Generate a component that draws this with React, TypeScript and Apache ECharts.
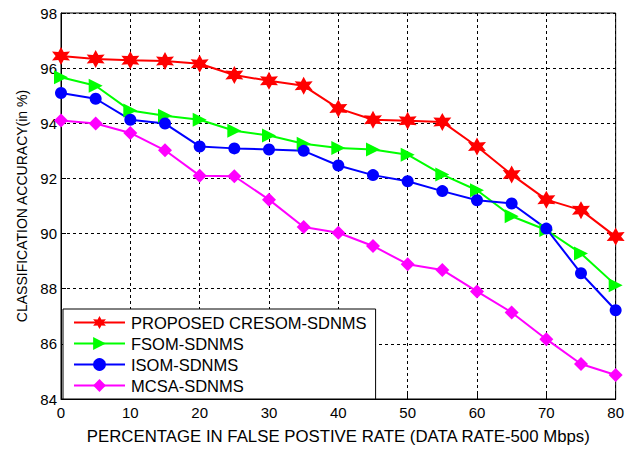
import React, { useEffect, useRef } from "react";
import * as echarts from "echarts";

const xValues = [0, 5, 10, 15, 20, 25, 30, 35, 40, 45, 50, 55, 60, 65, 70, 75, 80];
const proposed = [96.44, 96.33, 96.29, 96.26, 96.16, 95.75, 95.54, 95.36, 94.54, 94.13, 94.09, 94.05, 93.16, 92.14, 91.23, 90.85, 89.89];
const fsom = [95.67, 95.36, 94.46, 94.27, 94.13, 93.73, 93.56, 93.26, 93.1, 93.05, 92.86, 92.14, 91.57, 90.63, 90.13, 89.28, 88.13];
const isom = [95.1, 94.89, 94.13, 93.99, 93.16, 93.09, 93.05, 93.0, 92.47, 92.12, 91.9, 91.54, 91.21, 91.09, 90.18, 88.56, 87.22];
const mcsa = [94.1, 93.99, 93.65, 93.02, 92.1, 92.08, 91.23, 90.24, 90.03, 89.55, 88.89, 88.68, 87.9, 87.14, 86.17, 85.27, 84.87];
const seriesNames = ["PROPOSED CRESOM-SDNMS", "FSOM-SDNMS", "ISOM-SDNMS", "MCSA-SDNMS"];

function hexagramPath(): string {
  const pts: string[] = [];
  for (let i = 0; i < 12; i++) {
    const r = i % 2 === 0 ? 10 : 5.2;
    const a = (Math.PI / 180) * (90 + i * 30);
    pts.push(`${(10 + r * Math.cos(a)).toFixed(2)},${(10 - r * Math.sin(a)).toFixed(2)}`);
  }
  return "path://M" + pts.join(" L") + " Z";
}

const FONT = "'Liberation Sans', Arial, sans-serif";

export default function App() {
  const ref = useRef<HTMLDivElement>(null);
  useEffect(() => {
    if (!ref.current) return;
    const chart = echarts.init(ref.current, undefined, { renderer: "svg" });
    const mk = (name: string, data: number[], color: string, symbol: string, size: number) => ({
      name,
      type: "line",
      data: xValues.map((x, i) => [x, data[i]]),
      symbol,
      symbolSize: size,
      lineStyle: { color, width: 2 },
      itemStyle: { color, borderWidth: 0 },
      z: 2,
    });
    chart.setOption({
      animation: false,
      backgroundColor: "#fff",
      textStyle: { fontFamily: FONT },
      grid: { left: 61, top: 13, right: 10, bottom: 50, show: true, borderColor: "#000", borderWidth: 1 },
      legend: {
        orient: "vertical",
        left: 63,
        top: 309,
        data: seriesNames,
        itemWidth: 51,
        itemHeight: 16,
        itemGap: 4,
        padding: [5, 9, 5, 10],
        backgroundColor: "#fff",
        borderColor: "#000",
        borderWidth: 1,
        borderRadius: 0,
        textStyle: { fontFamily: FONT, fontSize: 16.5, color: "#000", padding: [0, 0, 0, 1] },
        z: 5,
      },
      xAxis: {
        type: "value",
        min: 0,
        max: 80,
        interval: 10,
        name: "PERCENTAGE IN FALSE POSTIVE RATE (DATA RATE-500 Mbps)",
        nameLocation: "middle",
        nameGap: 29,
        nameTextStyle: { fontFamily: FONT, fontSize: 16.8, color: "#000" },
        axisLine: { show: true, onZero: false, lineStyle: { color: "#000", width: 1 } },
        axisTick: { show: true, inside: true, length: 5, lineStyle: { color: "#000" } },
        axisLabel: { color: "#000", fontSize: 15, fontFamily: FONT, margin: 6 },
        splitLine: { show: true, lineStyle: { color: "#000", type: [3, 3], width: 1 } },
      },
      yAxis: {
        type: "value",
        min: 84,
        max: 98,
        interval: 2,
        name: "CLASSIFICATION ACCURACY(in %)",
        nameLocation: "middle",
        nameGap: 29,
        nameTextStyle: { fontFamily: FONT, fontSize: 14, color: "#000" },
        axisLine: { show: true, lineStyle: { color: "#000", width: 1 } },
        axisTick: { show: true, inside: true, length: 5, lineStyle: { color: "#000" } },
        axisLabel: { color: "#000", fontSize: 15, fontFamily: FONT, margin: 4 },
        splitLine: { show: true, lineStyle: { color: "#000", type: [3, 3], width: 1 } },
      },
      series: [
        mk(seriesNames[0], proposed, "#ff0000", hexagramPath(), 18),
        mk(seriesNames[1], fsom, "#00ff00", "path://M0,0 L10,5 L0,10 Z", 14),
        mk(seriesNames[2], isom, "#0000ff", "circle", 12),
        mk(seriesNames[3], mcsa, "#ff00ff", "diamond", 14),
      ],
    });
    return () => chart.dispose();
  }, []);
  return <div ref={ref} style={{ width: 627, height: 450, position: "absolute", left: 0, top: 0 }} />;
}
